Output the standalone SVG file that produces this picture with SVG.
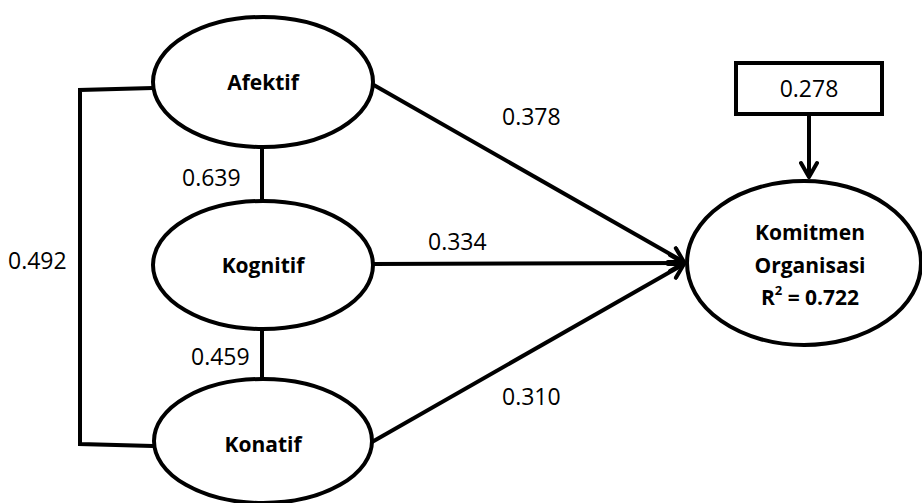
<svg xmlns="http://www.w3.org/2000/svg" width="922" height="503" viewBox="0 0 922 503">
<defs>
<marker id="chev" viewBox="0 0 20 20" refX="18" refY="10" markerWidth="20" markerHeight="20" markerUnits="userSpaceOnUse" orient="auto">
<path d="M4,2 L18,10 L4,18" fill="none" stroke="#000" stroke-width="4" stroke-linecap="round" stroke-linejoin="round"/>
</marker>
</defs>
<style>
.n{fill:#fff;stroke:#000;stroke-width:4}
.c{fill:none;stroke:#000;stroke-width:4}
.t{font-family:"Open Sans","Liberation Sans",sans-serif;font-size:23px;fill:#000}
.b{font-family:"Open Sans","Liberation Sans",sans-serif;font-size:21px;font-weight:bold;fill:#000;text-anchor:middle}
</style>
<rect width="922" height="503" fill="#fff"/>
<g id="connectors">
<path class="c" d="M153,88 L80,90 L80,444 L153,446"/>
<line class="c" x1="262" y1="147" x2="262" y2="201"/>
<line class="c" x1="262" y1="329" x2="262" y2="378"/>
<line class="c" x1="372" y1="84" x2="684" y2="262" marker-end="url(#chev)"/>
<line class="c" x1="372" y1="264" x2="684" y2="263" marker-end="url(#chev)"/>
<line class="c" x1="372" y1="442" x2="684" y2="264" marker-end="url(#chev)"/>
<line class="c" x1="809" y1="115" x2="809" y2="177" marker-end="url(#chev)"/>
<text class="t" x="8" y="269">0.492</text>
<text class="t" x="182" y="186">0.639</text>
<text class="t" x="191" y="365">0.459</text>
<text class="t" x="502" y="125">0.378</text>
<text class="t" x="428" y="250">0.334</text>
<text class="t" x="502" y="405">0.310</text>
</g>
<g id="afektif">
<ellipse class="n" cx="263" cy="82" rx="110" ry="65"/>
<text class="b" x="263" y="90">Afektif</text>
</g>
<g id="kognitif">
<ellipse class="n" cx="263" cy="265" rx="110" ry="64"/>
<text class="b" x="263" y="273">Kognitif</text>
</g>
<g id="konatif">
<ellipse class="n" cx="263" cy="441" rx="109" ry="62"/>
<text class="b" x="263" y="452">Konatif</text>
</g>
<g id="komitmen">
<ellipse class="n" cx="804" cy="263" rx="117" ry="82"/>
<text class="b" x="810" y="240">Komitmen</text>
<text class="b" x="810" y="273">Organisasi</text>
<text class="b" x="810" y="305">R<tspan font-size="13" dy="-10">2</tspan><tspan dy="10"> = 0.722</tspan></text>
</g>
<g id="error">
<rect class="n" x="736" y="63" width="146" height="51"/>
<text class="t" x="809" y="97" text-anchor="middle">0.278</text>
</g>
</svg>
